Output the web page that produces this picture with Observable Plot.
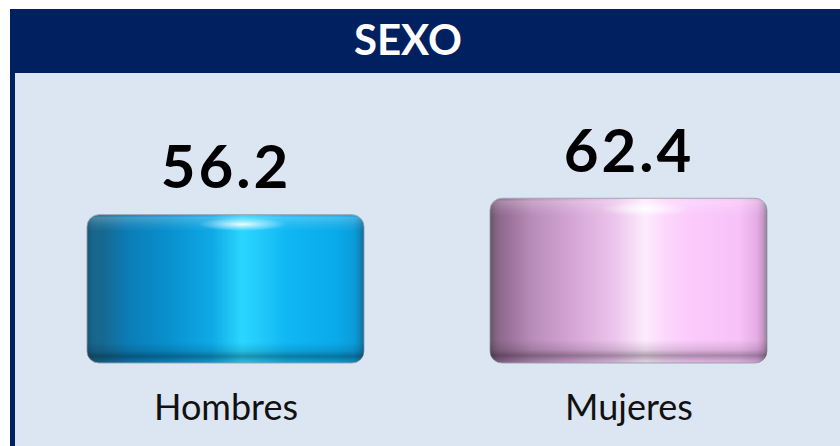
<!DOCTYPE html>
<html>
<head>
<meta charset="utf-8">
<script src="https://cdn.jsdelivr.net/npm/d3@7"></script>
<script src="https://cdn.jsdelivr.net/npm/@observablehq/plot@0.6"></script>
<style>
  html, body { margin: 0; padding: 0; background: #ffffff; }
  body { width: 840px; height: 446px; overflow: hidden; position: relative; font-family: Lato, "Open Sans", sans-serif; }
  #frame { position: absolute; left: 10px; top: 9px; width: 840px; height: 450px; background: #dce6f2; border-left: 5px solid #002060; }
  #header { position: absolute; left: 10px; top: 9px; width: 840px; height: 64px; background: #002060; }
  #title { position: absolute; left: 0; top: 9px; width: 816px; height: 64px; line-height: 64px; text-align: center; color: #ffffff; font-family: Lato, sans-serif; font-weight: 700; font-size: 42px; letter-spacing: 0px; margin-top: -2px; }
  #chart { position: absolute; left: 16px; top: 73px; }
</style>
</head>
<body>
<div id="frame"></div>
<div id="header"></div>
<div id="title">SEXO</div>
<div id="chart"></div>
<script>
const categories = ["Hombres", "Mujeres"];
const values = [56.2, 62.4];
const valueLabels = ["56.2", "62.4"];

const data = categories.map((c, i) => ({category: c, value: values[i], label: valueLabels[i]}));

const xOpts = {x: "category", y: "value", rx: 12};

const plot = Plot.plot({
  width: 824,
  height: 373,
  marginLeft: 71,
  marginRight: 72.5,
  marginTop: 26,
  marginBottom: 83,
  style: {background: "transparent", fontFamily: "Lato, sans-serif", color: "#000", overflow: "visible"},
  x: {domain: categories, paddingInner: 0.3135, paddingOuter: 0, axis: null},
  y: {domain: [0, 100], axis: null},
  marks: [
    Plot.barY(data.filter(d => d.category === "Hombres"), {...xOpts, fill: "url(#baseH)", stroke: "#9ea8b3", strokeWidth: 1}),
    Plot.barY(data.filter(d => d.category === "Mujeres"), {...xOpts, fill: "url(#baseM)", stroke: "#9ea8b3", strokeWidth: 1}),
    Plot.barY(data, {...xOpts, fill: "url(#shade)"}),
    Plot.barY(data, {...xOpts, fill: "url(#edges)"}),
    Plot.barY(data, {...xOpts, fill: "url(#glint)"}),
    Plot.text(data, {x: "category", y: "value", text: "label", dy: -27, lineAnchor: "bottom", fontSize: 60, fontWeight: 700, fill: "#000"}),
    Plot.axisX({tickSize: 0, tickPadding: 31, fontSize: 36, label: null, fill: "#111"})
  ]
});

const svg = d3.select(plot);
const defs = svg.insert("defs", ":first-child");

function linGrad(id, stops, vertical) {
  const g = defs.append("linearGradient").attr("id", id)
    .attr("x1", 0).attr("y1", 0)
    .attr("x2", vertical ? 0 : 1).attr("y2", vertical ? 1 : 0);
  stops.forEach(([o, c, a]) => g.append("stop").attr("offset", o).attr("stop-color", c).attr("stop-opacity", a == null ? 1 : a));
}

linGrad("baseH", [
  [0, "#1a6a93"], [0.05, "#17678f"], [0.15, "#0b7db7"], [0.3, "#0991cf"],
  [0.45, "#0ea9e6"], [0.56, "#2ad6ff"], [0.62, "#22cbfb"], [0.72, "#0fb7f3"],
  [0.9, "#0aaaea"], [0.97, "#0b9bd8"], [1, "#1383b8"]
]);
linGrad("baseM", [
  [0, "#7f667f"], [0.05, "#946c94"], [0.15, "#b88cb8"], [0.3, "#d6a6d6"],
  [0.45, "#ecc4ec"], [0.56, "#fdecfd"], [0.63, "#fcd8fc"], [0.72, "#fbcbfb"],
  [0.9, "#f7c2f7"], [0.97, "#e2abe2"], [1, "#c097c0"]
]);
linGrad("shade", [
  [0, "#ffffff", 0.0], [0.02, "#ffffff", 0.22], [0.07, "#ffffff", 0.08], [0.11, "#ffffff", 0],
  [0.86, "#000000", 0], [0.92, "#000000", 0.12], [0.955, "#000000", 0.32],
  [0.98, "#000000", 0.18], [1, "#000000", 0.08]
], true);
linGrad("edges", [
  [0, "#000000", 0.18], [0.02, "#000000", 0.05], [0.04, "#000000", 0],
  [0.96, "#000000", 0], [0.985, "#000000", 0.06], [1, "#000000", 0.18]
]);
const rg = defs.append("radialGradient").attr("id", "glint")
  .attr("cx", 0.56).attr("cy", 0.065).attr("r", 0.16)
  .attr("gradientTransform", "translate(0.56,0.065) scale(1,0.28) translate(-0.56,-0.065)");
rg.append("stop").attr("offset", 0).attr("stop-color", "#ffffff").attr("stop-opacity", 0.9);
rg.append("stop").attr("offset", 0.45).attr("stop-color", "#ffffff").attr("stop-opacity", 0.45);
rg.append("stop").attr("offset", 1).attr("stop-color", "#ffffff").attr("stop-opacity", 0);

svg.selectAll('g[aria-label="text"] text').attr("letter-spacing", 3);

document.getElementById("chart").appendChild(plot);
</script>
</body>
</html>
